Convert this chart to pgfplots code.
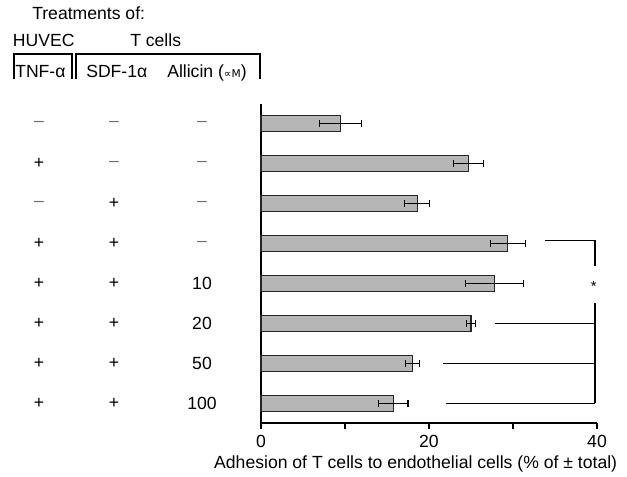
\documentclass[border=0pt]{standalone}
\usepackage{pgfplots}
\pgfplotsset{compat=1.18}
\usepackage{fontspec}
\setmainfont{Liberation Sans}
\newfontfamily\djv{DejaVu Sans}
\definecolor{barfill}{RGB}{182,182,182}
\definecolor{minusgray}{RGB}{110,110,110}
\newcommand{\mn}{\textcolor{minusgray}{–}}
\begin{document}
\fontsize{13.2}{15}\selectfont
\begin{tikzpicture}[x=0.75pt,y=0.75pt]
\useasboundingbox (0,0) rectangle (627,476);
% header
\node[anchor=base west, inner sep=0] at (32,456) {Treatments of:};
\node[anchor=base west, inner sep=0] at (12.7,429.3) {HUVEC};
\node[anchor=base west, inner sep=0] at (130,429.3) {T cells};
\node[anchor=base west, inner sep=0] at (15,399) {TNF-α};
\node[anchor=base west, inner sep=0] at (86,399) {SDF-1α};
\node[anchor=base west, inner sep=0] at (167,399) {Allicin ({\djv\fontsize{8}{9}\selectfont ∝M})};
\draw[line width=0.8pt] (14,397) -- (14,422) -- (72,422) -- (72,397);
\draw[line width=0.8pt] (76,397) -- (76,422) -- (260,422) -- (260,397);
\begin{axis}[
  at={(195.75pt,39.75pt)}, anchor=south west,
  scale only axis, width=252pt, height=239.25pt,
  xmin=0, xmax=40, ymin=0.5, ymax=8.5, y dir=reverse,
  axis x line=bottom, axis y line=left,
  axis line style={-, line width=0.8pt, black},
  xtick={0,10,20,30,40}, xticklabels={0,,20,,40}, ytick=\empty,
  tick align=outside, major tick length=4.5pt,
  tick style={black, line width=0.8pt},
  ticklabel style={font=\fontsize{13.2}{15}\selectfont},
  xlabel={Adhesion of T cells to endothelial cells (\% of ± total)},
  xlabel style={font=\fontsize{13.2}{15}\selectfont, xshift=-10pt, yshift=3pt},
  xbar, bar width=12pt,
  clip=false,
]
\addplot[fill=barfill, draw=black!85, line width=0.8pt,
  error bars/.cd, x dir=both, x explicit, error mark=|,
  error bar style={line width=0.8pt, black},
  error mark options={line width=0.8pt, mark size=2.6pt, black}]
coordinates {
 (9.5,1) +- (2.5,0)
 (24.7,2) +- (1.8,0)
 (18.6,3) +- (1.5,0)
 (29.4,4) +- (2.1,0)
 (27.8,5) +- (3.4,0)
 (25.0,6) +- (0.55,0)
 (18.0,7) +- (0.85,0)
 (15.75,8) +- (1.75,0)
};
% significance bracket
\draw[line width=0.8pt] (axis cs:33.85,3.93) -- (axis cs:39.76,3.93) -- (axis cs:39.76,4.55);
\draw[line width=0.8pt] (axis cs:39.76,5.48) -- (axis cs:39.76,8);
\draw[line width=0.8pt] (axis cs:27.8,6) -- (axis cs:39.76,6);
\draw[line width=0.8pt] (axis cs:21.7,7) -- (axis cs:39.76,7);
\draw[line width=0.8pt] (axis cs:22.0,8) -- (axis cs:39.76,8);
\node[font=\fontsize{11}{12}\selectfont] at (axis cs:39.6,5.08) {*};
% row labels
\node at (axis cs:-26.43,1) {\mn}; \node at (axis cs:-17.5,1) {\mn}; \node at (axis cs:-7.02,1) {\mn};
\node at (axis cs:-26.43,2) {+};   \node at (axis cs:-17.5,2) {\mn}; \node at (axis cs:-7.02,2) {\mn};
\node at (axis cs:-26.43,3) {\mn}; \node at (axis cs:-17.5,3) {+};   \node at (axis cs:-7.02,3) {\mn};
\node at (axis cs:-26.43,4) {+};   \node at (axis cs:-17.5,4) {+};   \node at (axis cs:-7.02,4) {\mn};
\node at (axis cs:-26.43,5) {+};   \node at (axis cs:-17.5,5) {+};   \node at (axis cs:-7.02,5) {10};
\node at (axis cs:-26.43,6) {+};   \node at (axis cs:-17.5,6) {+};   \node at (axis cs:-7.02,6) {20};
\node at (axis cs:-26.43,7) {+};   \node at (axis cs:-17.5,7) {+};   \node at (axis cs:-7.02,7) {50};
\node at (axis cs:-26.43,8) {+};   \node at (axis cs:-17.5,8) {+};   \node at (axis cs:-7.02,8) {100};
\end{axis}
\end{tikzpicture}
\end{document}
